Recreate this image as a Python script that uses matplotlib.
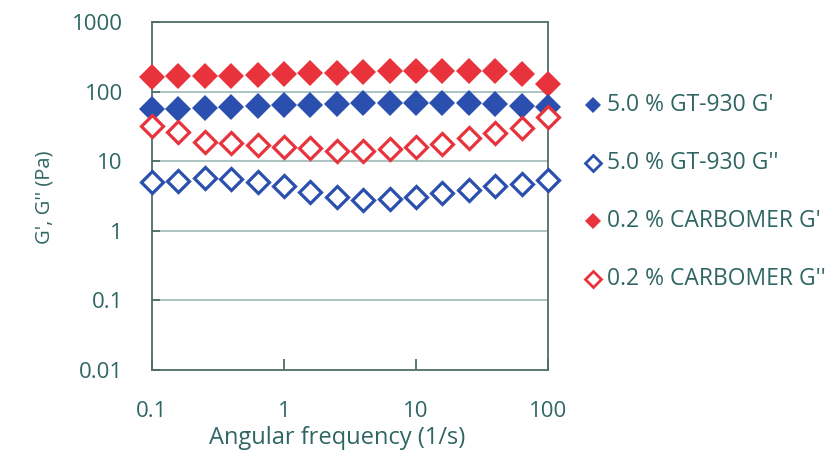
import matplotlib
matplotlib.use("Agg")
import matplotlib.pyplot as plt
import numpy as np

freq = [0.1, 0.158, 0.251, 0.398, 0.631, 1.0, 1.58, 2.51, 3.98, 6.31, 10.0, 15.8, 25.1, 39.8, 63.1, 100.0]
gt_g1 = [57, 57, 58, 61, 62, 64, 65, 67, 68, 68, 68, 68, 68, 67, 63, 60]
gt_g2 = [5.0, 5.2, 5.7, 5.5, 5.0, 4.4, 3.6, 3.1, 2.8, 2.9, 3.1, 3.5, 3.8, 4.4, 4.7, 5.3]
cb_g1 = [162, 165, 165, 168, 172, 178, 183, 188, 194, 195, 200, 200, 200, 195, 178, 128]
cb_g2 = [32, 26, 19, 18.5, 17.3, 16.2, 15.5, 14.2, 14.2, 14.8, 15.8, 17.6, 21.5, 25.5, 30, 43]
labels = ["5.0 % GT-930 G'", "5.0 % GT-930 G''", "0.2 % CARBOMER G'", "0.2 % CARBOMER G''"]

txt = "#2f6663"
blue = "#2a4fae"
red = "#e8323c"
plt.rcParams['font.family'] = ['Open Sans', 'DejaVu Sans']

fig = plt.figure(figsize=(8.4, 4.57), dpi=100)
ax = fig.add_axes([152/840, 1-370/457, (548-152)/840, (370-22)/457])
ax.set_xscale('log'); ax.set_yscale('log')
ax.set_xlim(0.1, 100); ax.set_ylim(0.01, 1000)

ms = 13.5
mew = 2.3
ax.plot(freq, cb_g1, 'D', color=red, ms=ms, mew=0, zorder=3, clip_on=False)
ax.plot(freq, gt_g1, 'D', color=blue, ms=ms, mew=0, zorder=3, clip_on=False)
ax.plot(freq, gt_g2, 'D', mfc='white', mec=blue, ms=ms-1.8, mew=mew, zorder=4, clip_on=False)
ax.plot(freq, cb_g2, 'D', mfc='white', mec=red, ms=ms-1.8, mew=mew, zorder=4, clip_on=False)

for v in [0.1, 1, 10, 100]:
    ax.axhline(v, color="#9dbab6", lw=1.2, zorder=1)

for s in ax.spines.values():
    s.set_color("#4f6e6a"); s.set_linewidth(1.3)

ax.set_xticks([0.1, 1, 10, 100]); ax.set_xticklabels(['0.1', '1', '10', '100'])
ax.set_yticks([0.01, 0.1, 1, 10, 100, 1000]); ax.set_yticklabels(['0.01', '0.1', '1', '10', '100', '1000'])
ax.minorticks_off()
ax.tick_params(axis='x', direction='in', length=8, width=1.3, color="#4f6e6a", pad=22, labelsize=16, labelcolor=txt)
ax.tick_params(axis='y', direction='in', length=6, width=1.3, color="#4f6e6a", pad=21, labelsize=16, labelcolor=txt)
ax.set_xlabel("Angular frequency (1/s)", fontsize=17, color=txt)
ax.xaxis.set_label_coords((337-152)/396, (370-426)/348)
ax.set_ylabel("G', G'' (Pa)", fontsize=14.5, color=txt)
ax.yaxis.set_label_coords((45-152)/396, (370-197)/348)
ax.yaxis.label.set_va('center')

# legend
ys = [105, 163, 221, 279]
styles = [dict(color=blue, mew=0), dict(mfc='white', mec=blue, mew=2.0),
          dict(color=red, mew=0), dict(mfc='white', mec=red, mew=2.0)]
for y, lab, st in zip(ys, labels, styles):
    fig.lines.append(plt.Line2D([593/840], [1-y/457], marker='D', ms=8.5 if st.get('mew') == 0 else 7.8,
                                ls='none', transform=fig.transFigure, **st))
    fig.text(607/840, 1-y/457, lab, fontsize=16.5, color=txt, va='center', ha='left')

fig.savefig("out.png", dpi=100, facecolor='white')
